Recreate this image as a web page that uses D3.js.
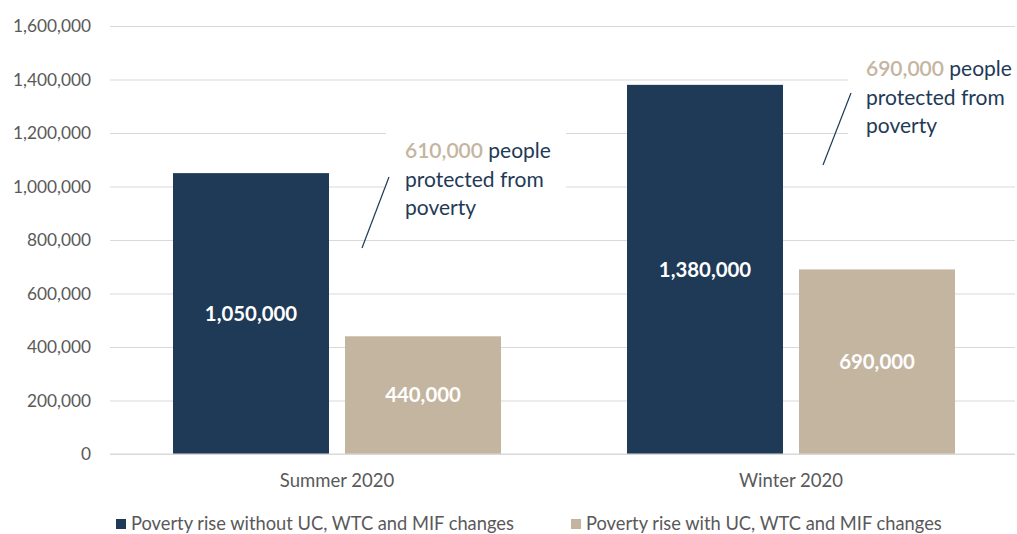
<!DOCTYPE html>
<html><head><meta charset="utf-8">
<script src="https://cdn.jsdelivr.net/npm/d3@7"></script>
<style>body{margin:0;background:#fff}svg{display:block}</style>
</head><body><div id="c"></div>
<script>
const categories = ["Summer 2020", "Winter 2020"];
const seriesNames = ["Poverty rise without UC, WTC and MIF changes", "Poverty rise with UC, WTC and MIF changes"];
const withoutChanges = [1050000, 1380000];
const withChanges = [440000, 690000];
const protectedCounts = [610000, 690000];
const yTicks = [0, 200000, 400000, 600000, 800000, 1000000, 1200000, 1400000, 1600000];
const colors = ["#1f3a57", "#c4b5a0"];

const W = 1017, H = 534;
const font = "Lato, 'Open Sans', sans-serif";
const svg = d3.select("#c").append("svg").attr("width", W).attr("height", H);

const x = d3.scaleBand().domain(categories).range([110, 1018]);
const y = d3.scaleLinear().domain([0, 1600000]).range([454, 26]);
const fmt = d3.format(",");

// gridlines
const yAxis = d3.axisLeft(y).tickValues(yTicks).tickFormat(fmt).tickSize(-(1015 - 110)).tickPadding(19);
const gy = svg.append("g").attr("transform", "translate(110,0)").call(yAxis);
gy.select(".domain").remove();
gy.selectAll(".tick line").attr("stroke", "#d9d9d9").attr("stroke-width", 1);
gy.selectAll(".tick text").attr("fill", "#595959").style("font-family", font).style("font-size", "17.3px");

// bars
const data = categories.map((c, i) => ({c, vals: [withoutChanges[i], withChanges[i]]}));
const inner = d3.scaleBand().domain([0, 1]).range([63, 391]).paddingInner(0.093);
const g = svg.append("g");
data.forEach(d => {
  d.vals.forEach((v, j) => {
    const bx = x(d.c) + inner(j);
    g.append("rect").attr("x", bx).attr("y", y(v)).attr("width", inner.bandwidth()).attr("height", y(0) - y(v)).attr("fill", colors[j]);
    g.append("text").attr("x", bx + inner.bandwidth() / 2).attr("y", (y(v) + y(0)) / 2).attr("dy", "0.35em")
      .attr("text-anchor", "middle").attr("fill", "#fff").style("font-family", font).style("font-weight", "bold").style("font-size", "20.4px")
      .text(fmt(v));
  });
});

// x axis baseline & labels
svg.append("line").attr("x1", 110).attr("x2", 1015).attr("y1", y(0)).attr("y2", y(0)).attr("stroke", "#d9d9d9");
categories.forEach(c => {
  svg.append("text").attr("x", x(c) + x.bandwidth() / 2).attr("y", 487).attr("text-anchor", "middle")
    .attr("fill", "#595959").style("font-family", font).style("font-size", "18.5px").text(c);
});

// annotations
const ann = [
  {i: 0, box: [386, 120, 180, 105], tx: 405, ty: 158, line: [362, 248, 389, 177]},
  {i: 1, box: [848, 48, 169, 100], tx: 866, ty: 76, line: [823, 165, 851, 93]}
];
ann.forEach(a => {
  svg.append("rect").attr("x", a.box[0]).attr("y", a.box[1]).attr("width", a.box[2]).attr("height", a.box[3]).attr("fill", "#fff");
  svg.append("line").attr("x1", a.line[0]).attr("y1", a.line[1]).attr("x2", a.line[2]).attr("y2", a.line[3]).attr("stroke", "#1f3a57").attr("stroke-width", 1.2);
  const t = svg.append("text").attr("x", a.tx).attr("y", a.ty).attr("fill", "#1f3a57").style("font-family", font).style("font-size", "21px");
  const l1 = t.append("tspan").attr("x", a.tx);
  l1.append("tspan").attr("fill", colors[1]).style("font-weight", "600").text(fmt(protectedCounts[a.i]));
  l1.append("tspan").text(" people");
  t.append("tspan").attr("x", a.tx).attr("dy", 28.5).text("protected from");
  t.append("tspan").attr("x", a.tx).attr("dy", 28.5).text("poverty");
});

// legend
const legX = [116, 571];
seriesNames.forEach((s, j) => {
  svg.append("rect").attr("x", legX[j]).attr("y", 519).attr("width", 10).attr("height", 10).attr("fill", colors[j]);
  svg.append("text").attr("x", legX[j] + 15).attr("y", 530).attr("fill", "#595959").style("font-family", font).style("font-size", "18.3px").text(s);
});
</script></body></html>
